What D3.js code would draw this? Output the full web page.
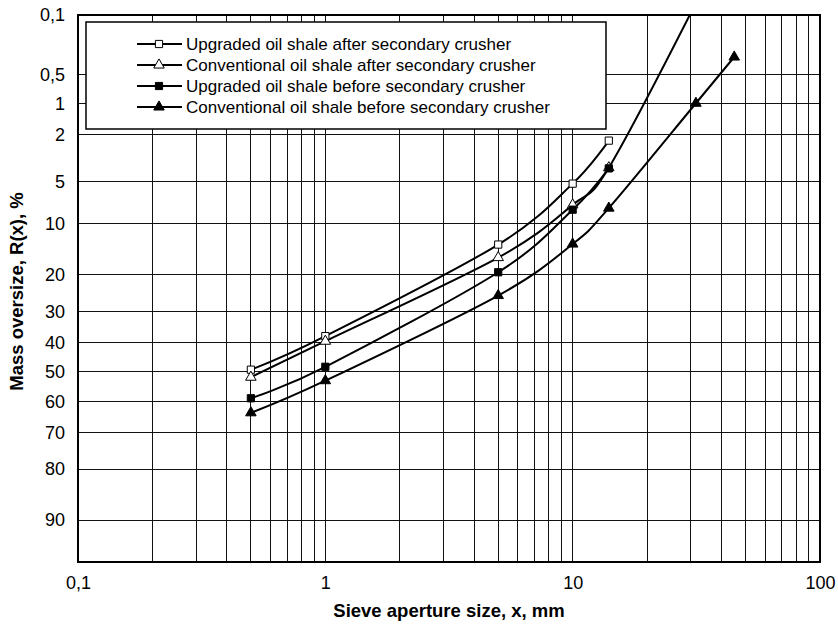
<!DOCTYPE html>
<html>
<head>
<meta charset="utf-8">
<script src="https://cdn.jsdelivr.net/npm/d3@7"></script>
<style>
  html, body { margin: 0; padding: 0; background: #fff; }
  svg { display: block; font-family: "Liberation Sans", Arial, sans-serif; }
</style>
</head>
<body>
<svg id="chart" width="838" height="625"></svg>
<script>
// Sieve analysis data: aperture size x (mm) and mass oversize R(x) (%)
const upgradedAfterX  = [0.5, 1, 5, 10, 14];
const upgradedAfterR  = [49.2, 37.8, 13.5, 5.15, 2.26];
const conventionalAfterX = [0.5, 1, 5, 10, 14, 31.5];
const conventionalAfterR = [51.8, 39.5, 16.1, 7.4, 3.85, 0.07];
const upgradedBeforeX = [0.5, 1, 5, 10, 14];
const upgradedBeforeR = [59.0, 48.2, 19.4, 8.0, 3.9];
const conventionalBeforeX = [0.5, 1, 5, 10, 14, 31.5, 45];
const conventionalBeforeR = [63.8, 53.0, 25.4, 13.4, 7.8, 1.0, 0.32];

const seriesNames = [
  "Upgraded oil shale after secondary crusher",
  "Conventional oil shale after secondary crusher",
  "Upgraded oil shale before secondary crusher",
  "Conventional oil shale before secondary crusher"
];

// Axis tick values
const xTicks = [0.1, 1, 10, 100];
const xTickLabels = ["0,1", "1", "10", "100"];
const yTicks = [0.1, 0.5, 1, 2, 5, 10, 20, 30, 40, 50, 60, 70, 80, 90];
const yTickLabels = ["0,1", "0,5", "1", "2", "5", "10", "20", "30", "40", "50", "60", "70", "80", "90"];
const yBottomValue = 95;

// Inverse standard normal CDF (Acklam's rational approximation)
function probit(p) {
  const a = [-3.969683028665376e+01, 2.209460984245205e+02, -2.759285104469687e+02,
             1.383577518672690e+02, -3.066479806614716e+01, 2.506628277459239e+00];
  const b = [-5.447609879822406e+01, 1.615858368580409e+02, -1.556989798598866e+02,
             6.680131188771972e+01, -1.328068155288572e+01];
  const c = [-7.784894002430293e-03, -3.223964580411365e-01, -2.400758277161838e+00,
             -2.549732539343734e+00, 4.374664141464968e+00, 2.938163982698783e+00];
  const d = [7.784695709041462e-03, 3.224671290700398e-01, 2.445134137142996e+00,
             3.754408661907416e+00];
  const pl = 0.02425, ph = 1 - pl;
  let q, r;
  if (p < pl) {
    q = Math.sqrt(-2 * Math.log(p));
    return (((((c[0]*q+c[1])*q+c[2])*q+c[3])*q+c[4])*q+c[5]) /
           ((((d[0]*q+d[1])*q+d[2])*q+d[3])*q+1);
  } else if (p <= ph) {
    q = p - 0.5; r = q * q;
    return (((((a[0]*r+a[1])*r+a[2])*r+a[3])*r+a[4])*r+a[5])*q /
           (((((b[0]*r+b[1])*r+b[2])*r+b[3])*r+b[4])*r+1);
  } else {
    q = Math.sqrt(-2 * Math.log(1 - p));
    return -(((((c[0]*q+c[1])*q+c[2])*q+c[3])*q+c[4])*q+c[5]) /
            ((((d[0]*q+d[1])*q+d[2])*q+d[3])*q+1);
  }
}
const z = R => probit(R / 100);

const margin = { left: 78, top: 15, right: 18, bottom: 63 };
const W = 838, H = 625;
const plotW = W - margin.left - margin.right;
const plotH = H - margin.top - margin.bottom;

const svg = d3.select("#chart");

const x = d3.scaleLog().domain([0.1, 100]).range([margin.left, margin.left + plotW]);
// probability scale: linear in normal quantile of R
const yz = d3.scaleLinear().domain([z(0.1), z(yBottomValue)]).range([margin.top, margin.top + plotH]);
const y = R => yz(z(R));

svg.append("defs").append("clipPath").attr("id", "plotClip")
  .append("rect")
  .attr("x", margin.left).attr("y", margin.top)
  .attr("width", plotW).attr("height", plotH);

// Gridlines
const grid = svg.append("g").attr("stroke", "#111").attr("stroke-width", 1).attr("shape-rendering", "crispEdges");
const xGrid = x.ticks().filter(v => v > 0.1 && v < 100);
grid.selectAll("line.vx").data(xGrid).join("line")
  .attr("x1", d => x(d)).attr("x2", d => x(d))
  .attr("y1", margin.top).attr("y2", margin.top + plotH);
grid.selectAll("line.hy").data(yTicks.filter(v => v > 0.1)).join("line")
  .attr("x1", margin.left).attr("x2", margin.left + plotW)
  .attr("y1", d => y(d)).attr("y2", d => y(d));

// Axes (labels only, frame drawn separately)
const xAxis = d3.axisBottom(x).tickValues(xTicks)
  .tickFormat((d, i) => xTickLabels[i]).tickSize(0).tickPadding(14);
const gx = svg.append("g").attr("transform", `translate(0,${margin.top + plotH})`).call(xAxis);
gx.select(".domain").remove();
gx.selectAll("text").attr("font-size", 18).attr("fill", "#000")
  .attr("font-family", "Liberation Sans, Arial, sans-serif");

const yAxis = d3.axisLeft(yz).tickValues(yTicks.map(z))
  .tickFormat((d, i) => yTickLabels[i]).tickSize(0).tickPadding(13);
const gy = svg.append("g").attr("transform", `translate(${margin.left},0)`).call(yAxis);
gy.select(".domain").remove();
gy.selectAll("text").attr("font-size", 18).attr("fill", "#000")
  .attr("font-family", "Liberation Sans, Arial, sans-serif");

// Plot frame
svg.append("rect")
  .attr("x", margin.left).attr("y", margin.top)
  .attr("width", plotW).attr("height", plotH)
  .attr("fill", "none").attr("stroke", "#000").attr("stroke-width", 2);

// Axis titles
svg.append("text")
  .attr("x", margin.left + plotW / 2).attr("y", 617)
  .attr("text-anchor", "middle").attr("font-size", 18.5).attr("font-weight", "bold")
  .text("Sieve aperture size, x, mm");
svg.append("text")
  .attr("transform", `translate(23,${margin.top + plotH / 2 + 3}) rotate(-90)`)
  .attr("text-anchor", "middle").attr("font-size", 18.5).attr("font-weight", "bold")
  .text("Mass oversize, R(x), %");

// Series
const series = [
  { xs: upgradedAfterX, rs: upgradedAfterR, shape: "square", fill: "#fff" },
  { xs: conventionalAfterX, rs: conventionalAfterR, shape: "triangle", fill: "#fff" },
  { xs: upgradedBeforeX, rs: upgradedBeforeR, shape: "square", fill: "#000" },
  { xs: conventionalBeforeX, rs: conventionalBeforeR, shape: "triangle", fill: "#000" }
];

const line = d3.line().x(d => x(d[0])).y(d => y(d[1])).curve(d3.curveCardinal.tension(0));
const symSquare = d3.symbol().type(d3.symbolSquare).size(52);
const symTri = d3.symbol().type(d3.symbolTriangle).size(48);

const dataG = svg.append("g").attr("clip-path", "url(#plotClip)");
series.forEach(s => {
  const pts = s.xs.map((v, i) => [v, s.rs[i]]);
  dataG.append("path").datum(pts).attr("d", line)
    .attr("fill", "none").attr("stroke", "#000").attr("stroke-width", 2);
});
series.forEach(s => {
  const pts = s.xs.map((v, i) => [v, s.rs[i]]);
  dataG.selectAll(null).data(pts).join("path")
    .attr("transform", d => `translate(${x(d[0])},${y(d[1])})`)
    .attr("d", s.shape === "square" ? symSquare : symTri)
    .attr("fill", s.fill).attr("stroke", "#000").attr("stroke-width", 1);
});

// Legend
const lg = svg.append("g");
lg.append("rect").attr("x", 86).attr("y", 22).attr("width", 520).attr("height", 107)
  .attr("fill", "#fff").attr("stroke", "#000").attr("stroke-width", 1.5);
seriesNames.forEach((name, i) => {
  const s = series[i];
  const cy = 44 + i * 21;
  lg.append("line").attr("x1", 137).attr("x2", 182).attr("y1", cy).attr("y2", cy)
    .attr("stroke", "#000").attr("stroke-width", 2);
  lg.append("path").attr("transform", `translate(159,${cy})`)
    .attr("d", s.shape === "square" ? symSquare : symTri)
    .attr("fill", s.fill).attr("stroke", "#000").attr("stroke-width", 1);
  lg.append("text").attr("x", 186).attr("y", cy + 6).attr("font-size", 17).text(name);
});
</script>
</body>
</html>
